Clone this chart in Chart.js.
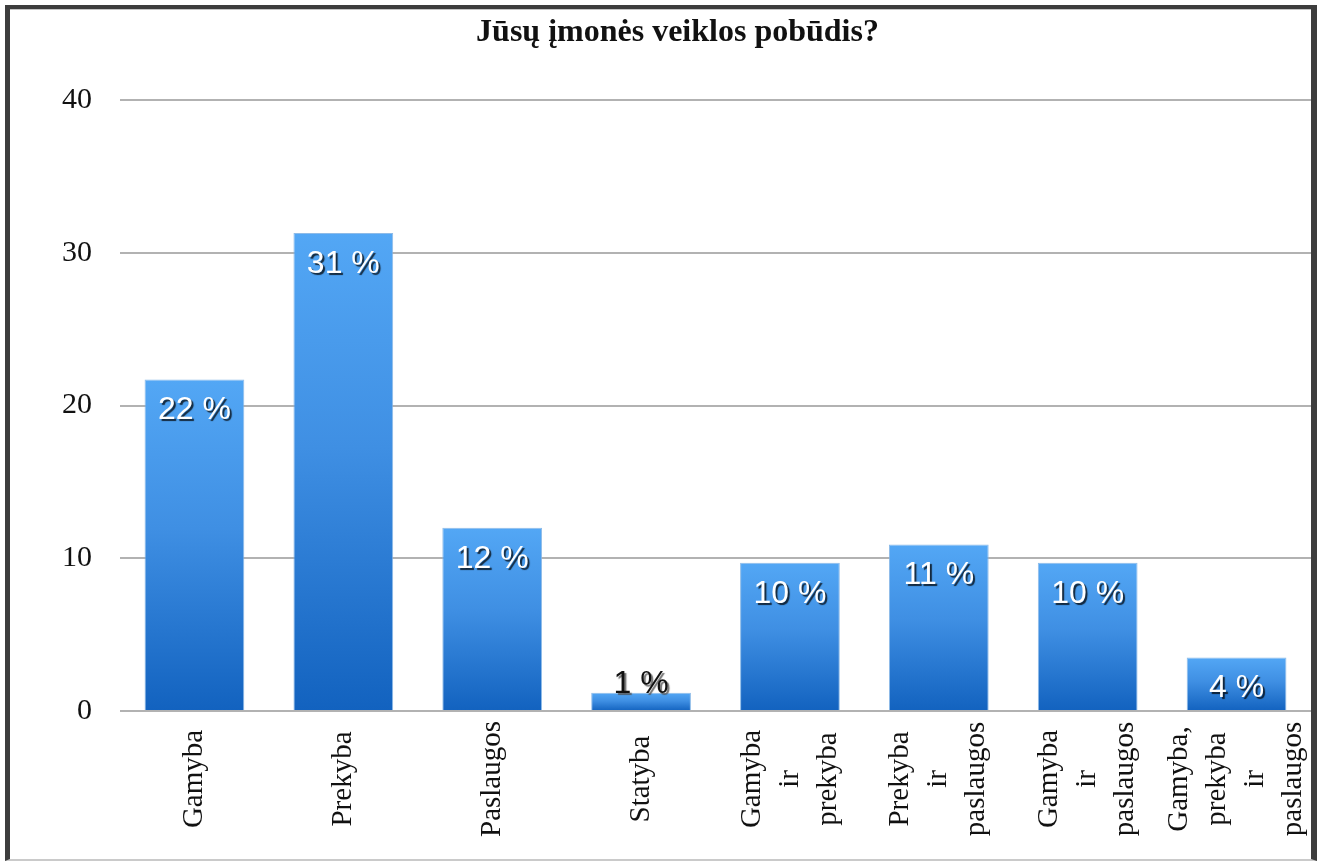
<!DOCTYPE html>
<html>
<head>
<meta charset="utf-8">
<script src="https://cdn.jsdelivr.net/npm/chart.js@4.4.1/dist/chart.umd.min.js"></script>
<style>
  html, body { margin: 0; padding: 0; background: #fff; }
  #wrap { position: relative; width: 1322px; height: 861px; }
  #frame {
    position: absolute; left: 5px; top: 5px; width: 1312px; height: 856px;
    box-sizing: border-box;
    border-left: 5px solid #3d3d3d; border-top: 4px solid #3d3d3d;
    border-right: 6px solid #3d3d3d; border-bottom: 2px solid #cacaca;
    box-shadow: inset 0 1px 0 #c4c4c4;
    pointer-events: none;
  }
</style>
</head>
<body>
<div id="wrap">
  <canvas id="chartVeikla" width="1322" height="861"></canvas>
  <div id="frame"></div>
</div>
<script>
// Duomenys
const kategorijos = [
  ['Gamyba'],
  ['Prekyba'],
  ['Paslaugos'],
  ['Statyba'],
  ['Gamyba', 'ir', 'prekyba'],
  ['Prekyba', 'ir', 'paslaugos'],
  ['Gamyba', 'ir', 'paslaugos'],
  ['Gamyba,', 'prekyba', 'ir', 'paslaugos']
];
const reiksmes = [21.7, 31.3, 12.0, 1.2, 9.7, 10.9, 9.7, 3.5];
const procentai = ['22 %', '31 %', '12 %', '1 %', '10 %', '11 %', '10 %', '4 %'];
const yTicks = [0, 10, 20, 30, 40];

const spalvaVirsus = '#53a7f5';
const spalvaApacia = '#1262bf';

// Gradientas kiekvienam stulpeliui atskirai
function stulpelioSpalva(c) {
  const chart = c.chart;
  const y = chart.scales.y;
  if (!y || c.type !== 'data') return spalvaApacia;
  const top = y.getPixelForValue(c.raw);
  const bottom = y.getPixelForValue(0);
  if (!isFinite(top) || !isFinite(bottom) || bottom - top < 1) return spalvaApacia;
  const g = chart.ctx.createLinearGradient(0, top, 0, bottom);
  g.addColorStop(0, spalvaVirsus);
  g.addColorStop(0.45, '#3f8fe3');
  g.addColorStop(1, spalvaApacia);
  return g;
}

// Procentų užrašai ant stulpelių
const etiketes = {
  id: 'etiketes',
  afterDatasetsDraw(chart) {
    const ctx = chart.ctx;
    const meta = chart.getDatasetMeta(0);
    ctx.save();
    ctx.font = '32px "Liberation Sans", Arial, sans-serif';
    ctx.textAlign = 'center';
    ctx.textBaseline = 'middle';
    meta.data.forEach((bar, i) => {
      const h = bar.base - bar.y;
      if (h > 40) {
        ctx.shadowColor = 'rgba(0,0,0,0.75)';
        ctx.shadowOffsetX = 2;
        ctx.shadowOffsetY = 2;
        ctx.shadowBlur = 1;
        ctx.fillStyle = '#ffffff';
        ctx.fillText(procentai[i], bar.x, bar.y + 31);
      } else {
        ctx.shadowColor = 'rgba(80,80,80,0.8)';
        ctx.shadowOffsetX = 2;
        ctx.shadowOffsetY = 2;
        ctx.shadowBlur = 1;
        ctx.fillStyle = '#111111';
        ctx.fillText(procentai[i], bar.x, bar.y - 8);
      }
    });
    ctx.restore();
  }
};

// Kategorijų užrašai, pasukti 90 laipsnių
const asiesUzrasai = {
  id: 'asiesUzrasai',
  afterDraw(chart) {
    const ctx = chart.ctx;
    const x = chart.scales.x;
    const cy = 779;
    const tarpas = 38;
    ctx.save();
    ctx.font = '29px "Liberation Serif", "Times New Roman", serif';
    ctx.fillStyle = '#111111';
    ctx.textAlign = 'center';
    ctx.textBaseline = 'middle';
    kategorijos.forEach((eil, i) => {
      const px = x.getPixelForValue(i);
      const n = eil.length;
      eil.forEach((t, j) => {
        const lx = px + (j - (n - 1) / 2) * tarpas;
        ctx.save();
        ctx.translate(lx, cy);
        ctx.rotate(-Math.PI / 2);
        ctx.fillText(t, 0, 0);
        ctx.restore();
      });
    });
    ctx.restore();
  }
};

const ctx = document.getElementById('chartVeikla').getContext('2d');

new Chart(ctx, {
  type: 'bar',
  data: {
    labels: kategorijos.map(k => k.join(' ')),
    datasets: [{
      data: reiksmes,
      backgroundColor: stulpelioSpalva,
      borderColor: 'rgba(130,180,230,0.9)',
      borderWidth: 1,
      categoryPercentage: 0.67,
      barPercentage: 1
    }]
  },
  options: {
    responsive: false,
    animation: false,
    layout: { padding: { left: 44, right: 11, top: 0, bottom: 0 } },
    plugins: {
      legend: { display: false },
      tooltip: { enabled: false },
      title: {
        display: true,
        text: 'Jūsų įmonės veiklos pobūdis?',
        color: '#111111',
        font: { family: '"Liberation Serif", "Times New Roman", serif', size: 32, weight: 'bold', lineHeight: 1.2 },
        padding: { top: 14, bottom: 47.6 }
      }
    },
    scales: {
      x: {
        grid: { display: false },
        border: { display: false },
        ticks: { display: false },
        afterFit(scale) { scale.height = 150; }
      },
      y: {
        min: 0,
        max: 40,
        afterFit(scale) { scale.width = 76; },
        afterBuildTicks(scale) { scale.ticks = yTicks.map(v => ({ value: v })); },
        grid: { color: '#b2b2b2', lineWidth: 2, drawTicks: false },
        border: { display: false },
        ticks: {
          padding: 28,
          color: '#111111',
          font: { family: '"Liberation Serif", "Times New Roman", serif', size: 30 }
        }
      }
    }
  },
  plugins: [etiketes, asiesUzrasai]
});
</script>
</body>
</html>
